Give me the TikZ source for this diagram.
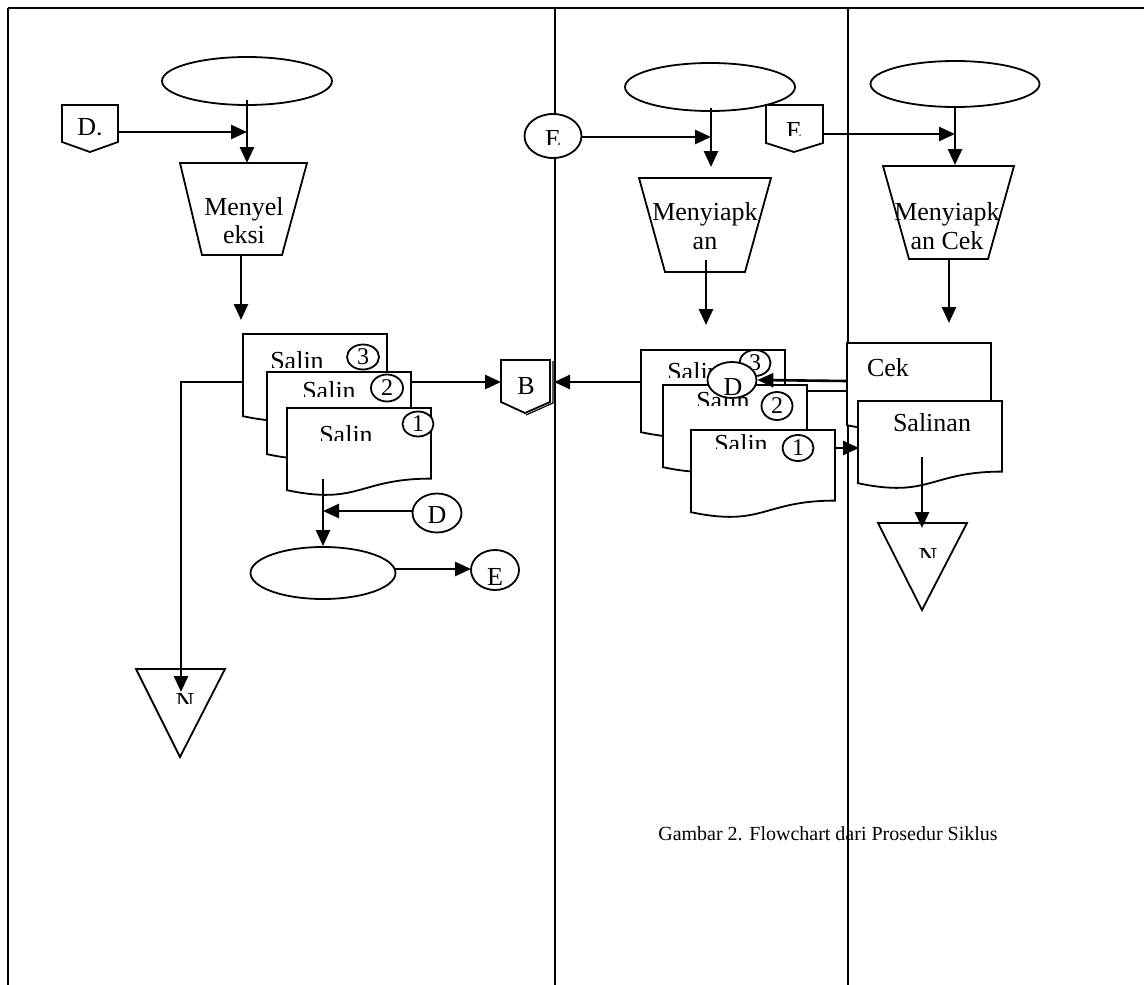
\documentclass[tikz,border=0pt]{standalone}
\usepackage{fontspec}
\setmainfont{Liberation Serif}
\usetikzlibrary{shapes.geometric,arrows.meta}
\tikzset{
 shp/.style={draw, line width=1.8pt, fill=white, line join=miter},
 ell/.style={ellipse, draw, line width=1.8pt, fill=white, inner sep=0pt},
 conn/.style={line width=2.6pt, -{Triangle[length=16pt,width=14pt]}},
 plainline/.style={line width=2.6pt},
 lbl/.style={font=\fontsize{26}{29}\selectfont, inner sep=0pt},
 num/.style={font=\fontsize{24}{26}\selectfont, inner sep=0pt},
 lane/.style={line width=1.6pt},
}
\newcommand\docshape[2]{%
 \draw[shp] (#1,#2) -- ({#1+144},#2) -- ({#1+144},{#2+70.6}) .. controls ({#1+72},{#2+70.6}) and ({#1+72},{#2+97.4}) .. (#1,{#2+82.2}) -- cycle;}
\newcommand\cuttext[4]{%
 \begin{scope}\clip ({#1-70},{#2-40}) rectangle ({#1+70},#3);
 \node[lbl,anchor=base] at (#1,#2) {#4};\end{scope}}
\begin{document}
\begin{tikzpicture}[x=1pt,y=-1pt]
\useasboundingbox (0,0) rectangle (1144,985);
% frame and lanes
\draw[line width=2.2pt] (8,8) -- (1144,8);
\draw[lane] (8,8) -- (8,985);
\draw[lane] (555,8) -- (555,985);
\draw[lane] (848,8) -- (848,985);

% ===== left lane =====
\node[ell, minimum width=170pt, minimum height=48pt] (eL) at (247,81) {};
\draw[shp] (62,105) -- (118,105) -- (118,142) -- (90,152) -- (62,142) -- cycle;
\cuttext{90}{135}{134}{D.}
\coordinate (dLo) at (118,132);
\coordinate (jL) at (247,132);
\coordinate (eLb) at (247,100);
\draw[shp] (180,163) -- (307,163) -- (282,255) -- (202,255) -- cycle;
\node[lbl,anchor=base] (tL1) at (244,215) {Menyel};
\node[lbl,anchor=base] (tL2) at (244,243) {eksi};
\coordinate (tLt) at (247,163);
\coordinate (tLb) at (241,255);
\coordinate (sL) at (241,320);
\draw[conn] (dLo) -- (jL);
\draw[conn] (eLb) -- (tLt);
\draw[conn] (tLb) -- (sL);

% document stack left
\docshape{243}{334}
\cuttext{297}{369}{367}{Salin}
\node[ell, minimum width=32pt, minimum height=25pt] (n3L) at (363,357) {};
\node[num] at (n3L) {3};
\docshape{267}{372}
\cuttext{329}{399}{396}{Salin}
\node[ell, minimum width=32pt, minimum height=27pt] (n2L) at (387,388) {};
\node[num] at (n2L) {2};
\docshape{287}{408}
\cuttext{346}{443}{440}{Salin}
\node[ell, minimum width=31pt, minimum height=25pt] (n1L) at (418,424) {};
\node[num] at (n1L) {1};

% B off-page connector
\draw[shp] (501,360) -- (550,360) -- (550,402) -- (525,413) -- (501,402) -- cycle;
\draw[line width=1.2pt] (553,361) -- (553,403) -- (526,415);
\node[lbl,anchor=base] (B) at (526,394) {B};
\coordinate (Bw) at (501,382);
\coordinate (Be) at (554,382);

\coordinate (d2Le) at (411,382);
\draw[conn] (d2Le) -- (Bw);

% triangle N left
\draw[shp] (136,669) -- (225,669) -- (180,757) -- cycle;
\cuttext{185}{710}{703}{N}
\coordinate (d3Lw) at (243,382);
\coordinate (bendL) at (181,382);
\coordinate (triLin) at (181,692);
\draw[conn] (d3Lw) -- (bendL) -- (triLin);

% D connector, bottom ellipse, E connector
\node[ell, minimum width=49pt, minimum height=39pt] (Dl) at (437,513) {};
\node[lbl,anchor=base] at (437,523) {D};
\node[ell, minimum width=145pt, minimum height=52pt] (eB) at (323,573) {};
\node[ell, minimum width=48pt, minimum height=40pt] (El) at (495,570) {};
\node[lbl,anchor=base] at (495,585) {E};
\coordinate (d1Ls) at (323,479);
\coordinate (jD) at (323,511);
\coordinate (Dlw) at (413,511);
\draw[conn] (d1Ls) -- (eB.north);
\draw[conn] (Dlw) -- (jD);
\coordinate (eBe) at (395,569);
\coordinate (Elw) at (471,569);
\draw[conn] (eBe) -- (Elw);

% ===== middle lane =====
\node[ell, minimum width=170pt, minimum height=48pt] (eM) at (710,87) {};
\node[ell, minimum width=57pt, minimum height=44pt] (Em) at (553,136) {};
\cuttext{553}{147}{144}{E}
\coordinate (Eme) at (582,137);
\coordinate (jM) at (711,137);
\coordinate (eMb) at (711,108);
\coordinate (tMt) at (711,167);
\draw[conn] (Eme) -- (jM);
\draw[conn] (eMb) -- (tMt);

\draw[shp] (639,178) -- (771,178) -- (745,272) -- (665,272) -- cycle;
\node[lbl,anchor=base] (tM1) at (705,220) {Menyiapk};
\node[lbl,anchor=base] (tM2) at (705,249) {an};
\coordinate (tMb) at (706,260);
\coordinate (sM) at (706,325);
\draw[conn] (tMb) -- (sM);

% F off-page connector
\draw[shp] (766,105) -- (823,105) -- (823,143) -- (794,152) -- (766,143) -- cycle;
\cuttext{794}{139}{135}{E}
\coordinate (Fe) at (823,134);
\coordinate (jR) at (955,134);
\draw[conn] (Fe) -- (jR);

% document stack middle
\docshape{641}{350}
\cuttext{694}{380}{377}{Salin}
\node[ell, minimum width=31pt, minimum height=26pt] (n3M) at (755,363) {};
\node[num] at (n3M) {3};
\docshape{663}{385}
\cuttext{723}{409}{405}{Salin}
\node[ell, minimum width=31pt, minimum height=28pt] (n2M) at (777,406) {};
\node[num] at (n2M) {2};
\docshape{691}{430}
\cuttext{741}{452}{448}{Salin}
\node[ell, minimum width=31pt, minimum height=26pt] (n1M) at (798,448) {};
\node[num] at (n1M) {1};
\node[ell, minimum width=49pt, minimum height=36pt] (Dm) at (732,380) {};
\node[lbl,anchor=base] at (733,395) {D};
\coordinate (d3Mw) at (641,382);
\draw[conn] (d3Mw) -- (Be);

% ===== right lane =====
\node[ell, minimum width=169pt, minimum height=46pt] (eR) at (955,84) {};
\coordinate (eRb) at (955,107);
\coordinate (tRt) at (955,165);
\draw[conn] (eRb) -- (tRt);
\draw[shp] (883,166) -- (1014,166) -- (988,259) -- (909,259) -- cycle;
\node[lbl,anchor=base] (tR1) at (947,220) {Menyiapk};
\node[lbl,anchor=base] (tR2) at (947,249) {an Cek};
\coordinate (tRb) at (949,259);
\coordinate (sR) at (949,323);
\draw[conn] (tRb) -- (sR);

\docshape{847}{343}
\node[lbl,anchor=base] (cek) at (888,376) {Cek};
\docshape{858}{401}
\node[lbl,anchor=base] (sal) at (932,431) {Salinan};

\coordinate (cekw) at (847,381);
\draw[conn] (cekw) -- (Dm.east);
\coordinate (cekw2) at (847,391);
\coordinate (d2Me) at (807,391);
\draw[plainline] (cekw2) -- (d2Me);
\coordinate (d1Me) at (834,448);
\coordinate (salw) at (859,448);
\draw[conn] (d1Me) -- (salw);

\draw[shp] (878,523) -- (967,523) -- (922,610) -- cycle;
\cuttext{928}{565}{557}{N}
\coordinate (salin) at (922,457);
\coordinate (triRin) at (922,528);
\draw[conn] (salin) -- (triRin);

% caption
\node[font=\fontsize{20}{24}\selectfont, inner sep=0pt, anchor=base] (cap) at (828,840) {Gambar 2. Flowchart dari Prosedur Siklus};
\end{tikzpicture}
\end{document}
